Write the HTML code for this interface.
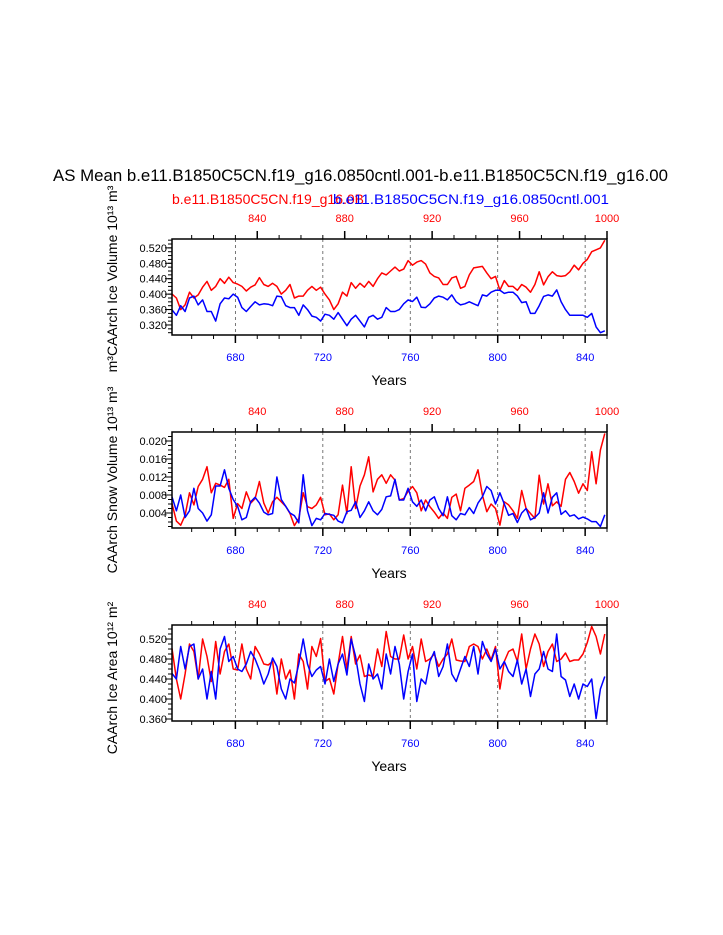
<!DOCTYPE html>
<html><head><meta charset="utf-8"><style>
body{margin:0;background:#fff;}
svg{display:block;font-family:"Liberation Sans",sans-serif;}
</style></head><body>
<svg id="chart" width="723" height="935" viewBox="0 0 723 935" xmlns="http://www.w3.org/2000/svg">
<text x="53" y="181" font-size="17" textLength="615" lengthAdjust="spacingAndGlyphs">AS Mean b.e11.B1850C5CN.f19_g16.0850cntl.001-b.e11.B1850C5CN.f19_g16.00</text>
<text x="172" y="204" font-size="14" fill="#f00">b.e11.B1850C5CN.f19_g16.0B</text>
<text x="333" y="204" font-size="14" fill="#00f" textLength="276" lengthAdjust="spacingAndGlyphs">b.e11.B1850C5CN.f19_g16.0850cntl.001</text>
<g id="plots"></g>
</svg>
<script>
const iceVolBlue=[.359,.345,.37,.355,.39,.395,.372,.385,.355,.355,.33,.375,.39,.388,.40,.392,.365,.355,.368,.38,.372,.375,.374,.37,.395,.393,.37,.365,.365,.345,.372,.36,.343,.34,.33,.348,.345,.335,.352,.335,.318,.335,.345,.33,.315,.34,.345,.335,.34,.365,
.355,.355,.36,.375,.385,.381,.392,.366,.365,.375,.39,.395,.392,.385,.398,.38,.372,.375,.38,.375,.37,.398,.395,.405,.41,.41,.402,.405,.405,.395,.378,.38,.35,.35,.37,.394,.398,.395,.411,.38,.36,.345,.345,.345,.345,.34,.35,.315,.30,.305];
const iceVolRed=[.40,.39,.36,.372,.405,.39,.398,.418,.433,.41,.42,.44,.428,.444,.43,.426,.42,.408,.418,.424,.443,.425,.42,.428,.42,.40,.41,.425,.39,.395,.395,.41,.42,.41,.418,.40,.385,.36,.375,.405,.395,.43,.415,.428,.418,.433,.42,.44,.455,.45,
.46,.47,.46,.465,.487,.475,.483,.487,.478,.455,.446,.442,.425,.425,.442,.446,.415,.42,.45,.468,.47,.472,.455,.44,.446,.41,.435,.42,.42,.41,.425,.418,.405,.425,.458,.424,.445,.458,.448,.446,.448,.458,.475,.463,.48,.49,.51,.515,.52,.54];
const snowBlue=[.0076,.0045,.008,.003,.0045,.0095,.005,.004,.0022,.0036,.010,.010,.0136,.0095,.007,.0055,.0025,.003,.0065,.0075,.0062,.0042,.0036,.0039,.012,.007,.0055,.004,.0034,.0018,.0125,.0045,.0012,.0028,.0025,.0039,.0037,.0035,.0022,.0018,.0043,.0046,.0065,.003,.0045,.0065,.0045,.0036,.0048,.0076,
.0078,.0115,.0069,.0069,.0095,.0065,.0055,.0069,.0045,.0069,.0076,.005,.0034,.0076,.0034,.0025,.0039,.0036,.0052,.0039,.0062,.0076,.0099,.009,.006,.0085,.006,.0035,.0039,.0019,.004,.005,.0025,.003,.004,.0085,.004,.0075,.0085,.0037,.0045,.0033,.0036,.0027,.0031,.0027,.0021,.0021,.001,.0036];
const snowRed=[.0061,.0022,.0013,.0035,.0085,.0058,.0099,.0115,.0143,.0085,.0106,.0102,.0097,.0115,.0028,.0061,.005,.0087,.0062,.0072,.011,.0062,.004,.0065,.0075,.0065,.0055,.0039,.0012,.0028,.0085,.0054,.005,.0058,.0075,.0036,.0038,.0025,.0036,.0102,.0039,.0143,.005,.01,.0125,.0165,.0087,.0115,.0125,.0106,
.0125,.0113,.0069,.0072,.0088,.0099,.0085,.0045,.0069,.0054,.0042,.0028,.004,.0028,.0075,.0082,.0045,.0095,.0102,.011,.0136,.008,.0043,.006,.005,.0013,.0065,.0058,.0045,.0028,.009,.005,.0039,.0028,.0124,.006,.0105,.0056,.0065,.0055,.0115,.013,.011,.0084,.0105,.009,.0176,.0105,.018,.0217];
const areaBlue=[.451,.44,.505,.46,.505,.51,.44,.46,.40,.455,.40,.50,.525,.475,.485,.46,.455,.47,.495,.48,.458,.43,.45,.482,.465,.42,.40,.44,.432,.47,.52,.47,.445,.458,.465,.43,.48,.435,.47,.49,.448,.52,.485,.43,.395,.47,.44,.45,.42,.49,
.45,.505,.47,.40,.455,.49,.395,.44,.43,.475,.495,.445,.465,.51,.45,.435,.46,.485,.465,.505,.45,.515,.49,.475,.50,.46,.475,.455,.445,.478,.43,.46,.405,.45,.46,.495,.46,.455,.53,.445,.438,.405,.43,.40,.43,.425,.44,.361,.42,.445];
const areaRed=[.501,.44,.40,.45,.51,.495,.44,.52,.485,.435,.515,.45,.495,.51,.46,.458,.51,.46,.44,.505,.49,.47,.468,.475,.41,.48,.44,.458,.40,.49,.475,.42,.505,.485,.521,.435,.441,.41,.47,.525,.46,.525,.47,.488,.445,.448,.445,.50,.465,.535,
.485,.48,.48,.528,.48,.505,.46,.52,.475,.48,.49,.465,.48,.49,.52,.478,.476,.475,.505,.51,.505,.48,.50,.478,.505,.42,.475,.495,.50,.475,.53,.46,.5,.53,.51,.465,.495,.51,.475,.48,.492,.475,.478,.478,.49,.513,.545,.525,.49,.53];
const startYear=651, yearStep=2, redOffset=150;
const bottomTicks=[680,720,760,800,840];
const topTicks=[840,880,920,960,1000];
const ticks1=[0.320,0.360,0.400,0.440,0.480,0.520];
const ticks2=[0.004,0.008,0.012,0.016,0.020];
const ticks3=[0.360,0.400,0.440,0.480,0.520];

const NS="http://www.w3.org/2000/svg";
const root=document.getElementById('plots');
const L=172,R=607,H=96;
const X0=651,X1=850;
function xs(yr){return L+(yr-X0)/(X1-X0)*(R-L);}
function mk(tag,at,parent){const e=document.createElementNS(NS,tag);for(const k in at)e.setAttribute(k,at[k]);(parent||root).appendChild(e);return e;}

const panels=[
 {top:239,ymin:0.294,ymax:0.543,ticks:ticks1,minor:0.01,dec:3,blue:iceVolBlue,red:iceVolRed,label:"m³CAArch Ice Volume 10¹³ m³",name:"ice-volume"},
 {top:432,ymin:0.00067,ymax:0.0220,ticks:ticks2,minor:0.001,dec:3,blue:snowBlue,red:snowRed,label:"CAArch Snow Volume 10¹³ m³",name:"snow-volume"},
 {top:625,ymin:0.356,ymax:0.548,ticks:ticks3,minor:0.01,dec:3,blue:areaBlue,red:areaRed,label:"CAArch Ice Area 10¹² m²",name:"ice-area"}
];
panels.forEach(p=>{
  const g=mk('g',{});
  
  
  const T=p.top,B=p.top+H;
  const ys=v=>B-(v-p.ymin)/(p.ymax-p.ymin)*H;
  // grid
  bottomTicks.forEach(t=>{const l=mk('line',{x1:xs(t),x2:xs(t),y1:T,y2:B,stroke:'#555','stroke-width':0.8,'stroke-dasharray':'3,3'},g);
    
    });
  // lines
  [['red',p.red,'#f00',redOffset],['blue',p.blue,'#00f',0]].forEach(([nm,arr,col])=>{
    const pts=arr.map((v,i)=>xs(startYear+i*yearStep).toFixed(1)+','+ys(v).toFixed(1)).join(' ');
    const pl=mk('polyline',{points:pts,fill:'none',stroke:col,'stroke-width':1.5,'stroke-linejoin':'round'},g);
    
    
  });
  const fr=mk('rect',{x:L,y:T,width:R-L,height:H,fill:'none',stroke:'#000','stroke-width':1.5},g);
  
  
  // y ticks
  for(let v=Math.ceil(p.ymin/p.minor)*p.minor;v<=p.ymax;v+=p.minor){
    mk('line',{x1:L-4,x2:L,y1:ys(v),y2:ys(v),stroke:'#000','stroke-width':1},g);
  }
  p.ticks.forEach(v=>{
    mk('line',{x1:L-7,x2:L,y1:ys(v),y2:ys(v),stroke:'#000','stroke-width':1},g);
    const t=mk('text',{x:L-5,y:ys(v)+4,'font-size':11,'text-anchor':'end'},g);
    t.textContent=v.toFixed(p.dec);
    
    
  });
  // x ticks bottom/top minor
  for(let yr=660;yr<=850;yr+=10){
    mk('line',{x1:xs(yr),x2:xs(yr),y1:B,y2:B+4,stroke:'#000'},g);
  }
  for(let yr=810;yr<=1000;yr+=10){
    const x=xs(yr-redOffset);
    if(x>=L-0.5&&x<=R+0.5) mk('line',{x1:x,x2:x,y1:T-4,y2:T,stroke:'#000'},g);
  }
  bottomTicks.forEach(yr=>{
    mk('line',{x1:xs(yr),x2:xs(yr),y1:B,y2:B+8,stroke:'#000','stroke-width':1.5},g);
    const t=mk('text',{x:xs(yr),y:B+26,'font-size':11,'text-anchor':'middle',fill:'#00f'},g);
    t.textContent=yr;
    
    
  });
  topTicks.forEach(yr=>{
    const x=xs(yr-redOffset);
    mk('line',{x1:x,x2:x,y1:T-8,y2:T,stroke:'#000','stroke-width':1.5},g);
    const t=mk('text',{x:x,y:T-17,'font-size':11,'text-anchor':'middle',fill:'#f00'},g);
    t.textContent=yr;
    
    
  });
  const xt=mk('text',{x:389,y:B+50,'font-size':14,'text-anchor':'middle'},g);
  xt.textContent='Years';
  
  
  const cy=T+H/2-(p.name==='ice-volume'?8:0)+ (p.name==='ice-area'?5:0);
  const yt=mk('text',{x:0,y:0,'font-size':14,'text-anchor':'middle',transform:'translate(117,'+cy+') rotate(-90)'},g);
  yt.textContent=p.label;
  
  
});
</script>
</body></html>
